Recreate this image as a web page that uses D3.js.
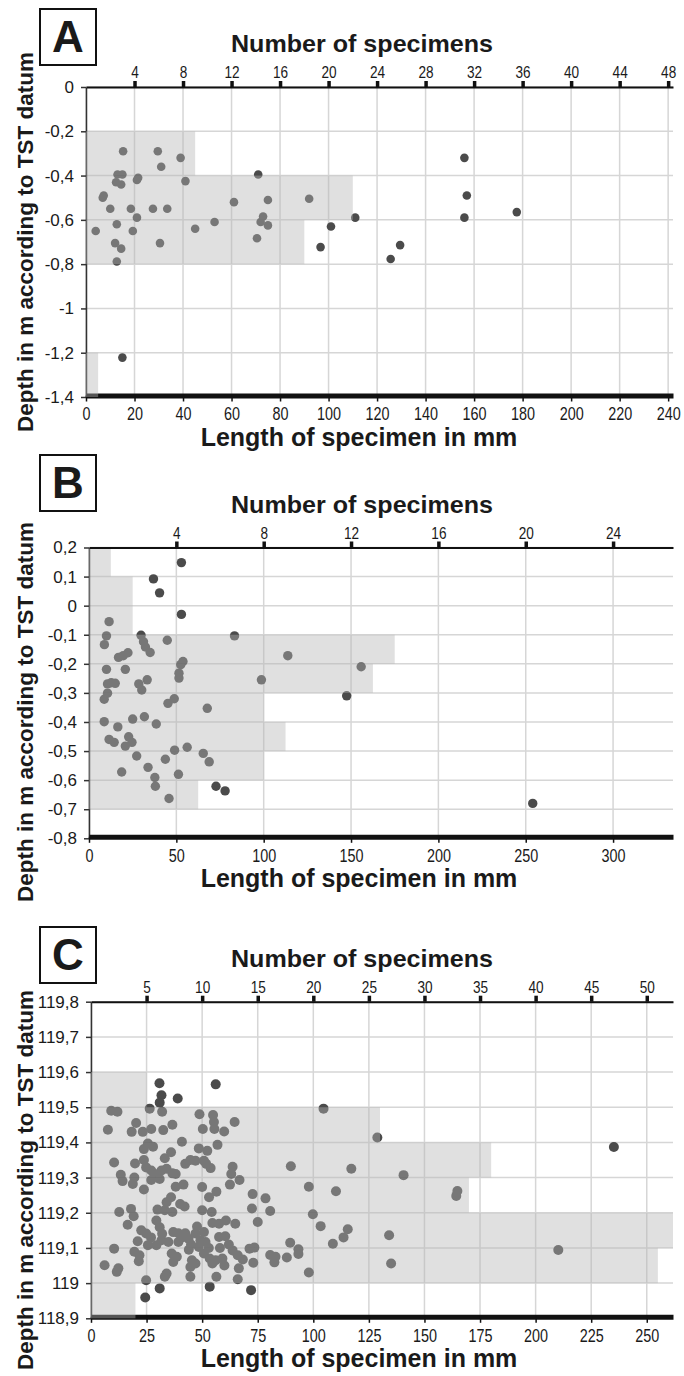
<!DOCTYPE html>
<html>
<head>
<meta charset="utf-8">
<script src="https://cdn.jsdelivr.net/npm/d3@7"></script>
<style>
  body { margin: 0; background: #fff; }
  text { font-family: "Liberation Sans", Arial, sans-serif; fill: #1a1a1a; }
</style>
</head>
<body>
<div id="chart"></div>
<script>
//---- panel A data
var aLength = [4, 7.3, 6.9, 10, 15.3, 12.4, 13, 15, 14.5, 12.7, 18.5, 21, 21.5, 21, 27.6, 29.6, 31, 33.5, 39, 41,
  45, 53, 61, 71, 75, 73, 72, 75, 92, 101, 111, 156, 157, 156, 177.6, 12, 14.5, 12.7, 19.3, 30.5,
  70.5, 96.7, 125.6, 129.5, 15];
var aDepth = [-0.65, -0.49, -0.50, -0.55, -0.29, -0.43, -0.395, -0.395, -0.44, -0.62, -0.55, -0.59, -0.41, -0.42, -0.55, -0.29, -0.36, -0.55, -0.32, -0.425,
  -0.64, -0.61, -0.52, -0.395, -0.51, -0.585, -0.61, -0.625, -0.505, -0.63, -0.59, -0.32, -0.49, -0.59, -0.565, -0.705, -0.73, -0.788, -0.65, -0.705,
  -0.683, -0.723, -0.777, -0.714, -1.222];
var aBinTop = [-0.2, -0.4, -0.6, -1.2];
var aBinCount = [9, 22, 18, 1];
var aLengthTicks = [0, 20, 40, 60, 80, 100, 120, 140, 160, 180, 200, 220, 240];
var aCountTicks = [4, 8, 12, 16, 20, 24, 28, 32, 36, 40, 44, 48];
var aDepthTicks = [0, -0.2, -0.4, -0.6, -0.8, -1, -1.2, -1.4];

//---- panel B data
var bLength = [52.9, 36.9, 40.4, 52.9, 11.5, 10, 8.8, 29.8, 31.2, 32.3, 35, 44.8, 83.3, 113.8, 155.8, 53.8, 52.5, 16.9, 19.6, 22.3,
  10, 20.8, 51.5, 51.5, 98.7, 15, 10.6, 12.7, 28.5, 33.3, 30.2, 10.6, 8.7, 147.5, 48.8, 45.2, 67.7, 25, 31.7, 8.7,
  38.5, 16.5, 11.5, 14.4, 22.7, 24.6, 20.8, 27.3, 49, 56.2, 43.7, 65.4, 68.8, 33.8, 18.7, 51.2, 37.7, 38, 45.8, 72.7,
  77.9, 254];
var bDepth = [0.148, 0.092, 0.044, -0.03, -0.055, -0.104, -0.134, -0.102, -0.124, -0.142, -0.161, -0.119, -0.104, -0.172, -0.21, -0.192, -0.203, -0.178, -0.172, -0.162,
  -0.219, -0.219, -0.232, -0.249, -0.255, -0.267, -0.269, -0.265, -0.269, -0.255, -0.29, -0.301, -0.322, -0.31, -0.32, -0.336, -0.353, -0.39, -0.382, -0.399,
  -0.407, -0.417, -0.46, -0.47, -0.451, -0.47, -0.483, -0.517, -0.497, -0.487, -0.528, -0.508, -0.537, -0.556, -0.572, -0.58, -0.591, -0.621, -0.663, -0.621,
  -0.637, -0.68];
var bBinTop = [0.2, 0.1, 0, -0.1, -0.2, -0.3, -0.4, -0.5, -0.6];
var bBinCount = [1, 2, 2, 14, 13, 8, 9, 8, 5];
var bLengthTicks = [0, 50, 100, 150, 200, 250, 300];
var bCountTicks = [4, 8, 12, 16, 20, 24];
var bDepthTicks = [0.2, 0.1, 0, -0.1, -0.2, -0.3, -0.4, -0.5, -0.6, -0.7, -0.8];

//---- panel C data
var cLength = [104.6, 128.8, 235.2, 89.9, 117.1, 140.6, 98, 110.2, 164.8, 164.3, 72.7, 78.5, 72.4, 80.6, 99.8, 75, 103.3, 115.5, 113.6, 134.1,
  108.8, 89.6, 93.3, 93.3, 73.5, 80.6, 83, 82.5, 88.1, 73, 210.2, 135, 98, 72,
  30.8, 56.1, 31.7, 30.9, 39, 26.4, 32, 9.1, 11.9, 48.8, 54.9, 55.3, 64.6, 20.3, 7.6, 18.3, 23.3, 27.1, 32.5, 36.6,
  50.3, 55.5, 59.9, 40.9, 56.9, 25.6, 27.9, 23.8, 48.5, 52.3, 36, 33.2, 10.4, 19.8, 23.8, 24.8, 42.4, 44.7, 47, 50.8,
  51.8, 53.8, 63.7, 63.1, 62.5, 66.8, 27.1, 28.7, 31.7, 34, 36.6, 38.1, 30.9, 27.1, 13.4, 14.2, 19.5, 18.8, 23.8, 38.1,
  41.6, 50, 53.1, 56.4, 36, 34, 40.1, 42.1, 29.9, 33.2, 36.6, 12.7, 18, 19.2, 50, 54.3, 29.4, 30.9, 16.5, 54.6,
  57.6, 60.7, 64.9, 47.7, 47, 50.8, 22.6, 24.8, 21, 37, 39.3, 42.4, 43.9, 31.7, 34.8, 29.4, 25.6, 39.3, 49.2, 51.5,
  48.5, 57.6, 60.4, 10.4, 19.5, 21.8, 21.5, 36.3, 38.6, 37, 45.4, 44.7, 47, 50.8, 53.4, 56.1, 59.1, 54.6, 63.7, 66,
  68.3, 66.5, 71.3, 6.1, 12.3, 11.6, 34, 33.2, 44.7, 56.4, 66, 24.8, 30.9, 53.4, 24.4,
  41, 45, 53, 27, 32, 44, 58, 60, 62];
var cDepth = [119.496, 119.414, 119.387, 119.332, 119.325, 119.307, 119.274, 119.261, 119.262, 119.248, 119.253, 119.241, 119.212, 119.205, 119.196, 119.174, 119.162, 119.153, 119.13, 119.136,
  119.112, 119.115, 119.096, 119.083, 119.101, 119.08, 119.075, 119.059, 119.073, 119.058, 119.094, 119.056, 119.03, 118.98,
  119.568, 119.565, 119.534, 119.513, 119.525, 119.496, 119.487, 119.49, 119.487, 119.48, 119.478, 119.458, 119.458, 119.455, 119.436, 119.43, 119.43, 119.438, 119.435, 119.45,
  119.438, 119.438, 119.431, 119.402, 119.393, 119.397, 119.388, 119.381, 119.383, 119.376, 119.372, 119.355, 119.343, 119.34, 119.35, 119.329, 119.339, 119.35, 119.348, 119.348,
  119.339, 119.327, 119.331, 119.31, 119.28, 119.293, 119.32, 119.31, 119.32, 119.325, 119.312, 119.31, 119.296, 119.293, 119.308, 119.29, 119.3, 119.282, 119.266, 119.274,
  119.28, 119.273, 119.244, 119.26, 119.244, 119.23, 119.225, 119.218, 119.209, 119.207, 119.202, 119.202, 119.211, 119.19, 119.207, 119.202, 119.178, 119.159, 119.166, 119.171,
  119.169, 119.178, 119.169, 119.161, 119.141, 119.145, 119.15, 119.141, 119.119, 119.145, 119.142, 119.142, 119.126, 119.122, 119.117, 119.108, 119.108, 119.117, 119.122, 119.117,
  119.103, 119.131, 119.133, 119.098, 119.089, 119.079, 119.062, 119.084, 119.075, 119.06, 119.065, 119.046, 119.056, 119.084, 119.07, 119.065, 119.07, 119.056, 119.093, 119.079,
  119.067, 119.042, 119.098, 119.051, 119.042, 119.032, 119.027, 119.018, 119.018, 119.018, 119.011, 119.008, 118.985, 118.99, 118.959,
  119.13, 119.11, 119.1, 119.13, 119.14, 119.095, 119.1, 119.05, 119.11];
var cBinTop = [119.6, 119.5, 119.4, 119.3, 119.2, 119.1, 119.0];
var cBinCount = [5, 26, 36, 34, 56, 51, 4];
var cLengthTicks = [0, 25, 50, 75, 100, 125, 150, 175, 200, 225, 250];
var cCountTicks = [5, 10, 15, 20, 25, 30, 35, 40, 45, 50];
var cDepthTicks = [119.8, 119.7, 119.6, 119.5, 119.4, 119.3, 119.2, 119.1, 119, 118.9];

//Width and height
var w = 684;
var h = 1376;

var svg = d3.select("#chart")
  .append("svg")
  .attr("width", w)
  .attr("height", h);

//comma as decimal mark, plain hyphen as minus
var locale = d3.formatLocale({decimal: ",", thousands: ".", grouping: [3], currency: ["", ""], minus: "-"});
var fmt = locale.format("~g");

function panel(p) {
  var g = svg.append("g");
  var x0 = p.xRange[0], x1 = p.xRange[1];
  var yTop = p.yRange[0], yBot = p.yRange[1];

  var x = d3.scaleLinear().domain([0, p.xMax]).range(p.xRange);
  var xTop = d3.scaleLinear().domain([0, p.xMax / p.mmPer]).range(p.xRange);
  var y = d3.scaleLinear().domain([p.yMax, p.yMin]).range(p.yRange);

  //gridlines
  g.selectAll(".vgrid")
    .data(p.lengthTicks)
    .enter()
    .append("line")
    .attr("x1", function(d) { return x(d); })
    .attr("x2", function(d) { return x(d); })
    .attr("y1", yTop)
    .attr("y2", yBot)
    .attr("stroke", "#d6d6d6")
    .attr("stroke-width", 1.5);

  g.selectAll(".hgrid")
    .data(p.depthTicks)
    .enter()
    .append("line")
    .attr("x1", x0)
    .attr("x2", x1)
    .attr("y1", function(d) { return y(d); })
    .attr("y2", function(d) { return y(d); })
    .attr("stroke", "#d6d6d6")
    .attr("stroke-width", 1.5);

  //left axis
  var left = g.append("g")
    .attr("transform", "translate(" + x0 + ",0)")
    .call(d3.axisLeft(y).tickValues(p.depthTicks).tickSize(5).tickSizeOuter(0).tickPadding(7).tickFormat(fmt));
  left.select(".domain").attr("stroke", "#333").attr("stroke-width", 1.5);
  left.selectAll(".tick line").attr("stroke", "#333").attr("stroke-width", 1.5);
  left.selectAll("text").attr("font-size", "17px").attr("fill", "#1a1a1a")
    .attr("font-family", "Liberation Sans, Arial, sans-serif");

  //bottom axis, thick line
  var bottom = g.append("g")
    .attr("transform", "translate(0," + (yBot - 1.5) + ")")
    .call(d3.axisBottom(x).tickValues(p.lengthTicks).tickSize(6).tickSizeOuter(0).tickPadding(6).tickFormat(d3.format("d")));
  bottom.select(".domain").attr("stroke", "#111").attr("stroke-width", 5);
  bottom.selectAll(".tick line").attr("stroke", "#111").attr("stroke-width", 1.5);
  bottom.selectAll("text").attr("font-size", "18px").attr("fill", "#1a1a1a")
    .attr("font-family", "Liberation Sans, Arial, sans-serif")
    .attr("transform", "scale(0.8,1)");

  //specimen dots
  g.selectAll("circle")
    .data(p.lengths)
    .enter()
    .append("circle")
    .attr("cx", function(d) { return x(d); })
    .attr("cy", function(d, i) { return y(p.depths[i]); })
    .attr("r", p.r)
    .attr("fill", "#4b4b4b");

  //histogram of specimen counts, laid over the dots
  g.selectAll(".bar")
    .data(p.binTop)
    .enter()
    .append("rect")
    .attr("x", x0)
    .attr("y", function(d) { return y(d); })
    .attr("width", function(d, i) { return Math.min(xTop(p.binCount[i]), x1) - x0; })
    .attr("height", function(d) { return y(d - p.binSize) - y(d); })
    .attr("fill", "rgb(181,181,181)")
    .attr("fill-opacity", 0.42);

  //top axis, number of specimens
  var top = g.append("g")
    .attr("transform", "translate(0," + yTop + ")")
    .call(d3.axisTop(xTop).tickValues(p.countTicks).tickSize(6).tickSizeOuter(0).tickPadding(3).tickFormat(d3.format("d")));
  top.select(".domain").attr("stroke", "#111").attr("stroke-width", 2);
  top.selectAll(".tick line").attr("stroke", "#111").attr("stroke-width", 3.5);
  top.selectAll("text").attr("font-size", "16px").attr("fill", "#1a1a1a")
    .attr("font-family", "Liberation Sans, Arial, sans-serif")
    .attr("transform", "scale(0.85,1)");

  //titles
  g.append("text")
    .text("Number of specimens")
    .attr("x", 231)
    .attr("y", yTop - 35)
    .attr("font-size", "24px")
    .attr("font-weight", "bold")
    .attr("textLength", 262)
    .attr("lengthAdjust", "spacingAndGlyphs");

  g.append("text")
    .text("Length of specimen in mm")
    .attr("text-anchor", "middle")
    .attr("x", 359)
    .attr("y", yBot + 49)
    .attr("font-size", "25px")
    .attr("font-weight", "bold");

  g.append("text")
    .text("Depth in m according to TST datum")
    .attr("text-anchor", "middle")
    .attr("transform", "translate(33," + p.titleY + ") rotate(-90)")
    .attr("font-size", "22.5px")
    .attr("font-weight", "bold");

  //panel letter in a box
  g.append("rect")
    .attr("x", 40)
    .attr("y", p.boxY)
    .attr("width", 56)
    .attr("height", 56)
    .attr("fill", "none")
    .attr("stroke", "#111")
    .attr("stroke-width", 2);

  g.append("text")
    .text(p.letter)
    .attr("text-anchor", "middle")
    .attr("x", 68)
    .attr("y", p.boxY + 43)
    .attr("font-size", "44px")
    .attr("font-weight", "bold");
}

panel({letter: "A", boxY: 9, titleY: 242,
  xMax: 242, xRange: [86, 673], yMax: 0, yMin: -1.4, yRange: [87, 397], mmPer: 5, binSize: 0.2, r: 4.3,
  lengths: aLength, depths: aDepth, binTop: aBinTop, binCount: aBinCount,
  lengthTicks: aLengthTicks, countTicks: aCountTicks, depthTicks: aDepthTicks});

panel({letter: "B", boxY: 455, titleY: 712,
  xMax: 334.3, xRange: [89, 673], yMax: 0.2, yMin: -0.8, yRange: [547.5, 838.3], mmPer: 12.5, binSize: 0.1, r: 4.7,
  lengths: bLength, depths: bDepth, binTop: bBinTop, binCount: bBinCount,
  lengthTicks: bLengthTicks, countTicks: bCountTicks, depthTicks: bDepthTicks});

panel({letter: "C", boxY: 927, titleY: 1180,
  xMax: 261.8, xRange: [91, 673], yMax: 119.8, yMin: 118.9, yRange: [1001.7, 1318.3], mmPer: 5, binSize: 0.1, r: 5,
  lengths: cLength, depths: cDepth, binTop: cBinTop, binCount: cBinCount,
  lengthTicks: cLengthTicks, countTicks: cCountTicks, depthTicks: cDepthTicks});
</script>
</body>
</html>
